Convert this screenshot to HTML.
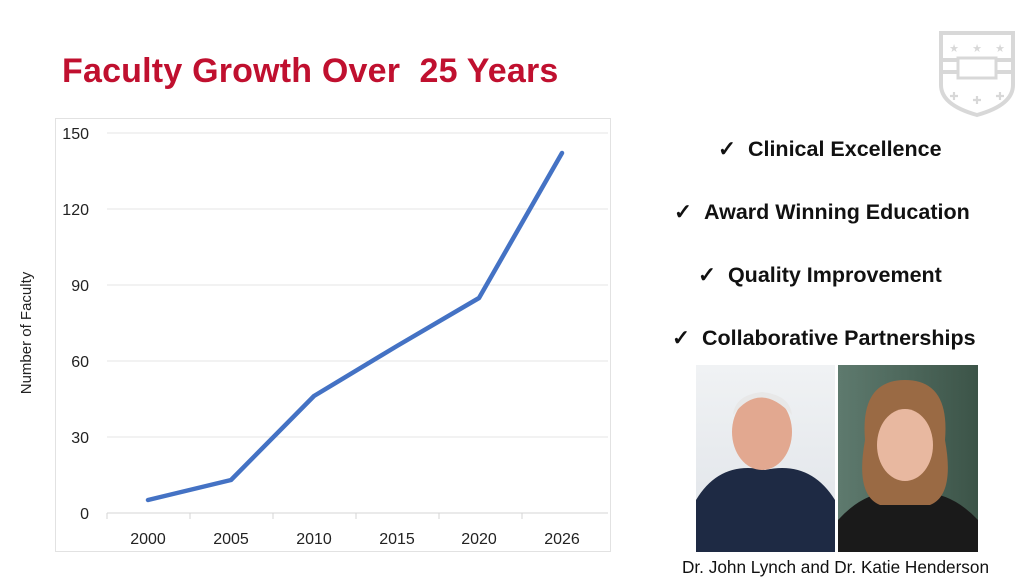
<!DOCTYPE html>
<html><head><style>
body{margin:0;width:1024px;height:587px;background:#fff;overflow:hidden;position:relative;font-family:"Liberation Sans",sans-serif}
.t{position:absolute;left:62px;top:52px;font-size:34px;font-weight:bold;color:#c0102f;letter-spacing:0.2px}
.b{position:absolute;font-size:21.5px;font-weight:bold;color:#111;white-space:nowrap}
</style></head><body>
<div class="t">Faculty Growth Over &nbsp;25 Years</div>
<svg width="1024" height="587" style="position:absolute;left:0;top:0" font-family="Liberation Sans, sans-serif">
<rect x="55.5" y="118.5" width="555" height="433" fill="none" stroke="#e2e2e2"/>
<g stroke="#e4e4e4" stroke-width="1">
<line x1="107" x2="608" y1="133" y2="133"/><line x1="107" x2="608" y1="209" y2="209"/>
<line x1="107" x2="608" y1="285" y2="285"/><line x1="107" x2="608" y1="361" y2="361"/>
<line x1="107" x2="608" y1="437" y2="437"/>
</g>
<g stroke="#d4d4d4"><line x1="107" x2="608" y1="513" y2="513"/>
<line x1="107" x2="107" y1="513" y2="519"/><line x1="190" x2="190" y1="513" y2="519"/><line x1="273" x2="273" y1="513" y2="519"/><line x1="356" x2="356" y1="513" y2="519"/><line x1="439" x2="439" y1="513" y2="519"/><line x1="522" x2="522" y1="513" y2="519"/></g>
<g font-size="16" fill="#222" text-anchor="end">
<text x="89" y="139">150</text><text x="89" y="215">120</text><text x="89" y="291">90</text><text x="89" y="367">60</text><text x="89" y="443">30</text><text x="89" y="519">0</text></g>
<g font-size="16" fill="#222" text-anchor="middle">
<text x="148" y="544">2000</text><text x="231" y="544">2005</text><text x="314" y="544">2010</text><text x="397" y="544">2015</text><text x="479" y="544">2020</text><text x="562" y="544">2026</text></g>
<text transform="translate(31,333) rotate(-90)" font-size="15" fill="#222" text-anchor="middle">Number of Faculty</text>
<polyline points="148,500 231,480 314,396 397,346 479,298 562,153" fill="none" stroke="#4472c4" stroke-width="4.5" stroke-linejoin="round" stroke-linecap="round"/>
<g fill="none" stroke="#d8d8d8" stroke-width="4">
<path d="M941,33 L1013,33 L1013,85 Q1013,105 977,115 Q941,105 941,85 Z"/>
<path d="M943,60 H1011 M943,72 H1011"/></g>
<rect x="958" y="58" width="38" height="20" fill="#fff" stroke="#d8d8d8" stroke-width="3"/>
<g fill="#d8d8d8" font-size="11" text-anchor="middle"><text x="954" y="52">★</text><text x="977" y="52">★</text><text x="1000" y="52">★</text><text x="954" y="100">✚</text><text x="977" y="104">✚</text><text x="1000" y="100">✚</text></g>
<defs><linearGradient id="g1" x1="0" y1="0" x2="0" y2="1"><stop offset="0" stop-color="#f0f2f4"/><stop offset="1" stop-color="#dfe3e8"/></linearGradient>
<linearGradient id="g2" x1="0" y1="0" x2="1" y2="0"><stop offset="0" stop-color="#5e7a6e"/><stop offset="1" stop-color="#3c5448"/></linearGradient></defs>
<rect x="696" y="365" width="139" height="187" fill="url(#g1)"/>
<path d="M696,500 Q720,460 765,470 Q810,460 835,500 V552 H696Z" fill="#1e2a44"/>
<ellipse cx="762" cy="432" rx="30" ry="38" fill="#e2a890"/>
<path d="M733,415 Q760,380 792,415 Q790,395 762,392 Q735,395 733,415Z" fill="#e8e8e8"/>
<rect x="838" y="365" width="140" height="187" fill="url(#g2)"/>
<path d="M838,520 Q870,485 905,495 Q945,485 978,520 V552 H838Z" fill="#1a1a1a"/>
<path d="M865,440 Q860,380 905,380 Q950,380 945,440 Q955,495 930,505 H880 Q855,495 865,440Z" fill="#9a6a44"/>
<ellipse cx="905" cy="445" rx="28" ry="36" fill="#e8b8a0"/>
</svg>
<div class="b" style="left:718px;top:137px">✓ &nbsp;Clinical Excellence</div>
<div class="b" style="left:674px;top:200px">✓ &nbsp;Award Winning Education</div>
<div class="b" style="left:698px;top:263px">✓ &nbsp;Quality Improvement</div>
<div class="b" style="left:672px;top:326px">✓ &nbsp;Collaborative Partnerships</div>
<div style="position:absolute;left:682px;top:557px;font-size:17.2px;color:#111;white-space:nowrap">Dr. John Lynch and Dr. Katie Henderson</div>
</body></html>
